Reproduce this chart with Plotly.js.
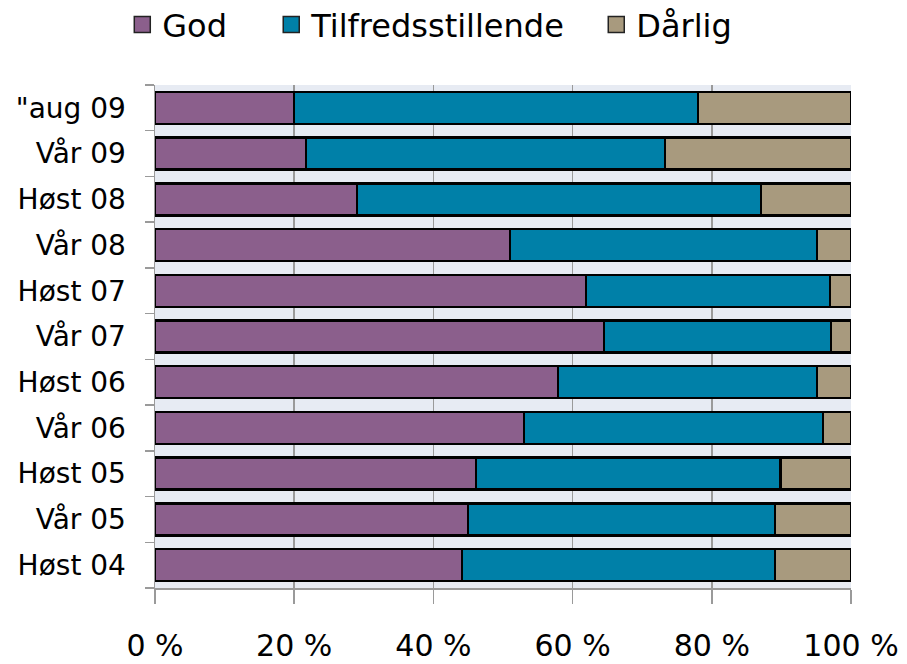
<!DOCTYPE html>
<html>
<head>
<meta charset="utf-8">
<script src="https://cdn.plot.ly/plotly-3.0.1.min.js"></script>
<style>
  html, body { margin: 0; padding: 0; background: #fff; }
  #chart { width: 907px; height: 664px; }
</style>
</head>
<body>
<div id="chart"></div>
<script>
// categories from bottom to top
const periods = ['Høst 04', 'Vår 05', 'Høst 05', 'Vår 06', 'Høst 06', 'Vår 07',
                 'Høst 07', 'Vår 08', 'Høst 08', 'Vår 09', '"aug 09'];
const god      = [44.1, 45.0, 46.1, 53.0, 57.9, 64.5, 61.9, 51.0, 29.0, 21.7, 20.0];
const tilfreds = [45.0, 44.1, 43.8, 43.0, 37.2, 32.6, 35.1, 44.1, 58.1, 51.6, 58.0];
const darlig   = [10.9, 10.9, 10.1,  4.0,  4.9,  2.9,  3.0,  4.9, 12.9, 26.7, 22.0];
const seriesNames = ['God', 'Tilfredsstillende', 'Dårlig'];
const seriesColors = ['#8B5F8C', '#0080A8', '#A89A7E'];
const xTicks = [0, 20, 40, 60, 80, 100];
const xTickText = ['0 %', '20 %', '40 %', '60 %', '80 %', '100 %'];

const traces = [];
[god, tilfreds, darlig].forEach((values, i) => {
  traces.push({
    type: 'bar',
    orientation: 'h',
    name: seriesNames[i],
    y: periods,
    x: values,
    showlegend: false,
    marker: { color: seriesColors[i], line: { color: '#000', width: 2.5 } }
  });
});
// legend-only entries (bigger square symbols), one legend each so spacing can match
const legendIds = ['legend', 'legend2', 'legend3'];
seriesNames.forEach((name, i) => {
  traces.push({
    type: 'scatter',
    mode: 'markers',
    name: name,
    legend: legendIds[i],
    x: [null],
    y: [null],
    marker: { symbol: 'square', size: 20, color: seriesColors[i], line: { color: '#222', width: 1.5 } }
  });
});

function legendAt(x) {
  return {
    orientation: 'h',
    x: x, xanchor: 'left',
    y: 1.12, yanchor: 'middle',
    font: { size: 32 },
    itemsizing: 'trace',
    itemwidth: 30,
    bgcolor: 'rgba(0,0,0,0)'
  };
}

const layout = {
  width: 907,
  height: 664,
  barmode: 'stack',
  bargap: 0.3,
  paper_bgcolor: '#fff',
  plot_bgcolor: '#E7EBF3',
  font: { family: 'DejaVu Sans, Verdana, sans-serif', color: '#000' },
  margin: { l: 155, r: 56, t: 85, b: 76, autoexpand: false },
  showlegend: true,
  legend: legendAt(-0.047),
  legend2: legendAt(0.167),
  legend3: legendAt(0.634),
  xaxis: {
    range: [0, 100],
    tickvals: xTicks,
    ticktext: xTickText,
    tickfont: { size: 30 },
    showgrid: true,
    gridcolor: '#9a9a9a',
    gridwidth: 1.5,
    ticks: 'outside',
    ticklen: 14,
    tickwidth: 1.5,
    tickcolor: '#9a9a9a',
    ticklabelstandoff: 16,
    showline: true,
    linecolor: '#9a9a9a',
    linewidth: 1.5,
    zeroline: false,
    fixedrange: true
  },
  yaxis: {
    type: 'category',
    tickfont: { size: 28 },
    tickson: 'boundaries',
    ticks: 'outside',
    ticklen: 9,
    tickwidth: 1.5,
    tickcolor: '#9a9a9a',
    showgrid: false,
    showline: true,
    linecolor: '#9a9a9a',
    linewidth: 1.5,
    ticklabelstandoff: 22,
    fixedrange: true
  }
};

Plotly.newPlot('chart', traces, layout, { displayModeBar: false, staticPlot: true });
</script>
</body>
</html>
